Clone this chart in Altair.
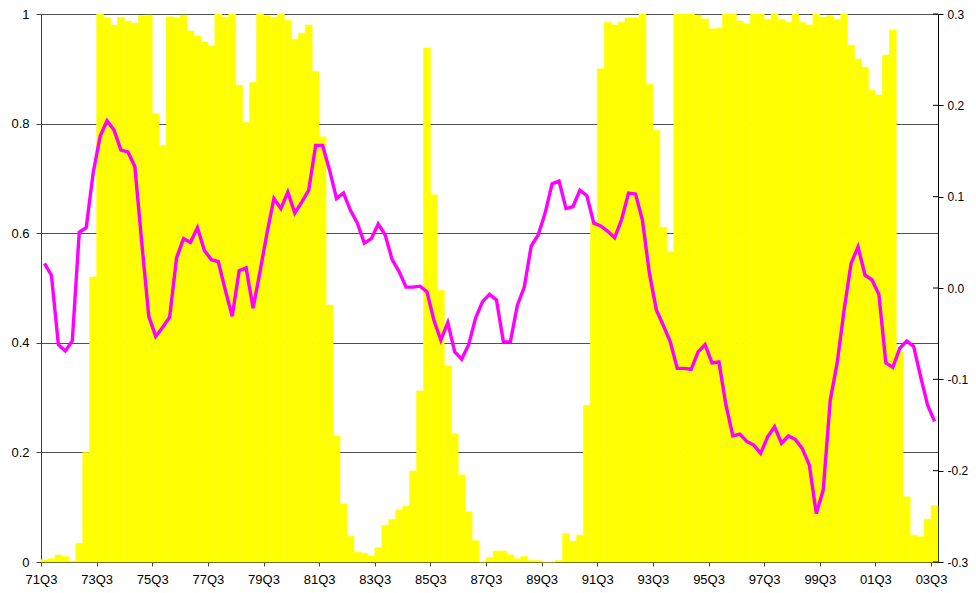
import altair as alt
import pandas as pd

# Categories: quarters 71Q3 .. 03Q3 (129 quarters), tick labels every 8 quarters
tick_labels = ["71Q3", "73Q3", "75Q3", "77Q3", "79Q3", "81Q3", "83Q3", "85Q3",
               "87Q3", "89Q3", "91Q3", "93Q3", "95Q3", "97Q3", "99Q3", "01Q3", "03Q3"]

# Yellow bars (left axis, 0..1)
bar_values = [
    0.004, 0.006, 0.013, 0.010, 0.002, 0.034, 0.20, 0.52,
    1.0, 0.993, 0.98, 0.994, 0.987, 0.983, 0.997, 0.998,
    0.818, 0.76, 0.995, 0.993, 0.998, 0.969, 0.96, 0.949,
    0.942, 1.0, 0.994, 1.0, 0.870, 0.802, 0.875, 1.0,
    0.997, 0.994, 1.0, 0.988, 0.954, 0.965, 0.98, 0.895,
    0.776, 0.469, 0.23, 0.106, 0.047, 0.018, 0.016, 0.011,
    0.026, 0.067, 0.078, 0.095, 0.102, 0.166, 0.312, 0.938,
    0.67, 0.496, 0.358, 0.234, 0.159, 0.092, 0.039, 0.0,
    0.008, 0.02, 0.02, 0.013, 0.006, 0.01, 0.003, 0.003,
    0.0, 0.0, 0.003, 0.052, 0.038, 0.049, 0.286, 0.62,
    0.90, 0.985, 0.98, 0.985, 0.993, 0.993, 1.0, 0.872,
    0.788, 0.611, 0.566, 1.0, 1.0, 1.0, 0.998, 0.991,
    0.973, 0.974, 1.0, 1.0, 0.987, 0.982, 1.0, 1.0,
    0.99, 1.0, 0.99, 0.985, 1.0, 0.985, 0.98, 1.0,
    0.994, 0.997, 0.99, 1.0, 0.943, 0.918, 0.903, 0.861,
    0.852, 0.925, 0.971, 0.383, 0.119, 0.049, 0.046, 0.078,
    0.103,
]

# Magenta line (right axis, -0.3..0.3)
line_values = [
    0.027, 0.014, -0.062, -0.069, -0.058, 0.061, 0.066, 0.126,
    0.166, 0.183, 0.173, 0.151, 0.149, 0.133, 0.049, -0.031,
    -0.053, -0.043, -0.032, 0.033, 0.054, 0.050, 0.066, 0.041,
    0.031, 0.029, -0.002, -0.031, 0.019, 0.022, -0.022, 0.018,
    0.060, 0.098, 0.087, 0.105, 0.082, 0.094, 0.107, 0.156,
    0.156, 0.129, 0.098, 0.104, 0.085, 0.071, 0.049, 0.054,
    0.070, 0.058, 0.031, 0.018, 0.001, 0.001, 0.002, -0.004,
    -0.035, -0.057, -0.038, -0.070, -0.078, -0.062, -0.033, -0.015,
    -0.007, -0.013, -0.059, -0.059, -0.019, 0.001, 0.046, 0.058,
    0.082, 0.114, 0.117, 0.087, 0.089, 0.107, 0.101, 0.071,
    0.068, 0.062, 0.055, 0.075, 0.104, 0.103, 0.074, 0.016,
    -0.024, -0.041, -0.059, -0.088, -0.088, -0.089, -0.070, -0.062,
    -0.082, -0.081, -0.128, -0.162, -0.160, -0.168, -0.172, -0.181,
    -0.163, -0.152, -0.170, -0.162, -0.166, -0.176, -0.194, -0.247,
    -0.221, -0.123, -0.082, -0.024, 0.027, 0.045, 0.014, 0.009,
    -0.007, -0.082, -0.087, -0.066, -0.058, -0.064, -0.097, -0.128,
    -0.146,
]

left_ticks = [0, 0.2, 0.4, 0.6, 0.8, 1]
right_ticks = [-0.3, -0.2, -0.1, 0, 0.1, 0.2, 0.3]

n = len(bar_values)
df = pd.DataFrame({"idx": list(range(n)), "bar": bar_values, "line": line_values})
ticks_df = pd.DataFrame({"v": right_ticks})

W, H = 897, 548
FONT = "Liberation Sans"
FS = 13

x_vals = [8 * k for k in range(len(tick_labels))]
x_label_expr = "[" + ",".join("'%s'" % t for t in tick_labels) + "][round(datum.value/8)]"

x_scale = alt.Scale(domain=[0, n], nice=False, zero=False)
x_axis = alt.Axis(values=x_vals, labelExpr=x_label_expr, grid=False, tickSize=4,
                  labelPadding=7, domainColor="#404040", tickColor="#404040",
                  labelColor="black", labelFont=FONT, labelFontSize=FS, labelAngle=0,
                  title="", labelFlush=False, labelOverlap=False)

left_axis = alt.Axis(values=left_ticks, format="~g", orient="left", grid=True,
                     gridColor="#505050", gridWidth=1, tickSize=5, labelPadding=7,
                     domainColor="#404040", tickColor="#404040", labelColor="black",
                     labelFont=FONT, labelFontSize=FS, title="", labelFlush=False)

right_label_expr = ("datum.value < -0.001 ? '-' + format(-datum.value, '.1f') : "
                    "format(datum.value, '.1f')")
right_axis = alt.Axis(values=right_ticks, labelExpr=right_label_expr, orient="right",
                      grid=False, tickSize=5, labelPadding=4, domainColor="black",
                      tickColor="black", labelColor="black", labelFont=FONT,
                      labelFontSize=12, title="", labelFlush=False)

right_scale = alt.Scale(domain=[-0.3, 0.3], nice=False, zero=False)

bars = alt.Chart(df).transform_calculate(x2="datum.idx + 1").mark_rect(
    color="#FFFF00", stroke="#FFFF00", strokeWidth=0.5
).encode(
    x=alt.X("idx:Q", scale=x_scale, axis=x_axis),
    x2="x2:Q",
    y=alt.Y("bar:Q", scale=alt.Scale(domain=[0, 1], nice=False), axis=left_axis),
    y2=alt.datum(0),
)

line = alt.Chart(df).transform_calculate(mid="datum.idx + 0.5").mark_line(
    color="#FF00FF", strokeWidth=3.4
).encode(
    x=alt.X("mid:Q", scale=x_scale, axis=x_axis),
    y=alt.Y("line:Q", scale=right_scale, axis=right_axis),
)

inner_ticks = alt.Chart(ticks_df).mark_rule(color="black", strokeWidth=1).encode(
    x=alt.value(W - 5),
    x2=alt.value(W),
    y=alt.Y("v:Q", scale=right_scale, axis=right_axis),
)

right_layer = alt.layer(line, inner_ticks)

chart = alt.layer(bars, right_layer).resolve_scale(y="independent").properties(
    width=W, height=H,
    autosize=alt.AutoSizeParams(type="none"),
    padding={"left": 33, "top": 6, "right": 30, "bottom": 25},
).configure_view(strokeWidth=0)

chart.save("out.html", embed_options={"renderer": "svg", "actions": False})
